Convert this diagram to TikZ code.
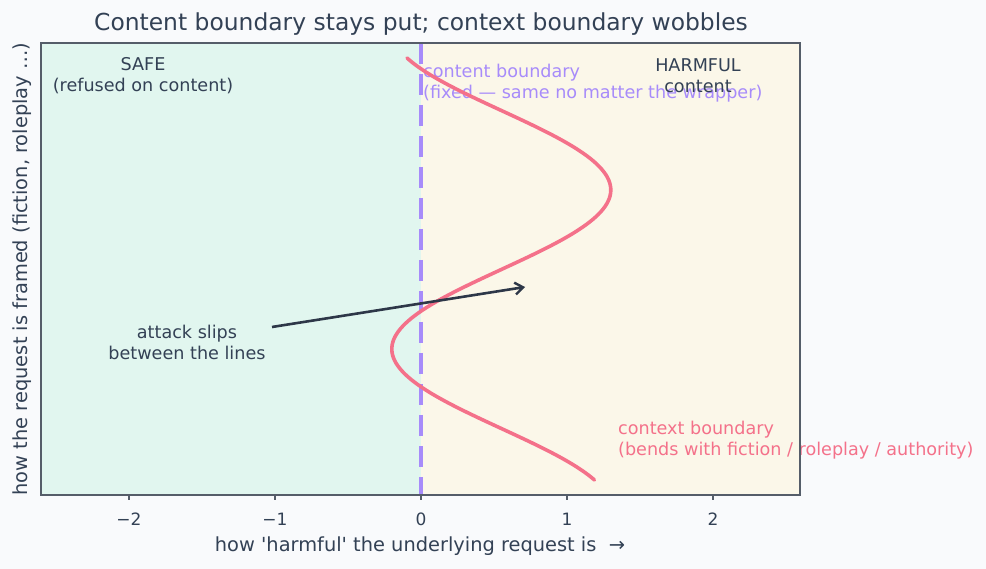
\documentclass[tikz,border=0pt]{standalone}
\usepackage{fontspec}
\setmainfont{DejaVu Sans}[Ligatures=TeXOff]
\usetikzlibrary{arrows.meta}
\definecolor{figbg}{HTML}{F9FAFC}
\definecolor{mint}{HTML}{E1F6EF}
\definecolor{cream}{HTML}{FBF7E9}
\definecolor{lav}{HTML}{A78BFA}
\definecolor{rose}{HTML}{F4718A}
\definecolor{ink}{HTML}{334155}
\definecolor{arrowink}{HTML}{2D3748}
\definecolor{spine}{HTML}{555D69}
\tikzset{
  lbl/.style={font=\fontsize{17.6}{21}\selectfont, text=ink, align=center, inner sep=0pt},
  ticklbl/.style={font=\fontsize{17}{19}\selectfont, text=ink, inner sep=0pt},
  axlbl/.style={font=\fontsize{19.4}{22}\selectfont, text=ink, inner sep=0pt},
  curveline/.style={rose, line width=3.6pt, line cap=round},
  fixline/.style={lav, line width=3.6pt, dash pattern=on 21pt off 10pt},
  attackarrow/.style={arrowink, line width=2.6pt, -{Straight Barb[length=8pt,width=12pt,line width=2.4pt]}},
}
\begin{document}
\begin{tikzpicture}[x=1pt,y=-1pt]
\useasboundingbox (0,0) rectangle (986,569);
\fill[figbg] (0,0) rectangle (986,569);
% regions
\fill[mint] (41,43) rectangle (421,495);
\fill[cream] (421,43) rectangle (800,495);
% fixed content boundary
\coordinate (ftop) at (421,43);
\coordinate (fbot) at (421,495);
\draw[fixline] (ftop) -- (fbot);
% texts in plot
\node[lbl, text=lav, align=left, anchor=north west] (cb) at (423,64) {content boundary\\(fixed — same no matter the wrapper)};
\node[lbl] (safe) at (143,76) {SAFE\\(refused on content)};
\node[lbl] (harm) at (698,76) {HARMFUL\\content};
\node[lbl, text=rose, align=left, anchor=north west] (ctx) at (618,421) {context boundary\\(bends with fiction / roleplay / authority)};
% context boundary curve
\draw[curveline] plot[domain=58:480, samples=160, smooth] ({421+146*(0.55+0.75*sin(90+(\x-190)*1.13208))}, \x);
% attack
\node[lbl] (atk) at (187,342) {attack slips\\between the lines};
\coordinate (a1) at (272,327);
\coordinate (a2) at (525,287);
\draw[attackarrow] (a1) -- (a2);
% spines
\draw[spine, line width=1.4pt] (41,43) rectangle (800,495);
% ticks
\foreach \v/\t/\n in {-2/{−2}/tm2, -1/{−1}/tm1, 0/0/t0, 1/1/t1, 2/2/t2} {
  \draw[spine, line width=1.2pt] (421+146*\v,495) -- (421+146*\v,500);
  \node[ticklbl] (\n) at (421+146*\v,519) {\t};
}
% axis labels
\node[axlbl] (xl) at (420,546) {how 'harmful' the underlying request is \ →};
\node[axlbl, rotate=90] (yl) at (22,269) {how the request is framed (fiction, roleplay …)};
% title
\node[font=\fontsize{23.4}{27}\selectfont, text=ink, inner sep=0pt] (title) at (421,24) {Content boundary stays put; context boundary wobbles};
\end{tikzpicture}
\end{document}
